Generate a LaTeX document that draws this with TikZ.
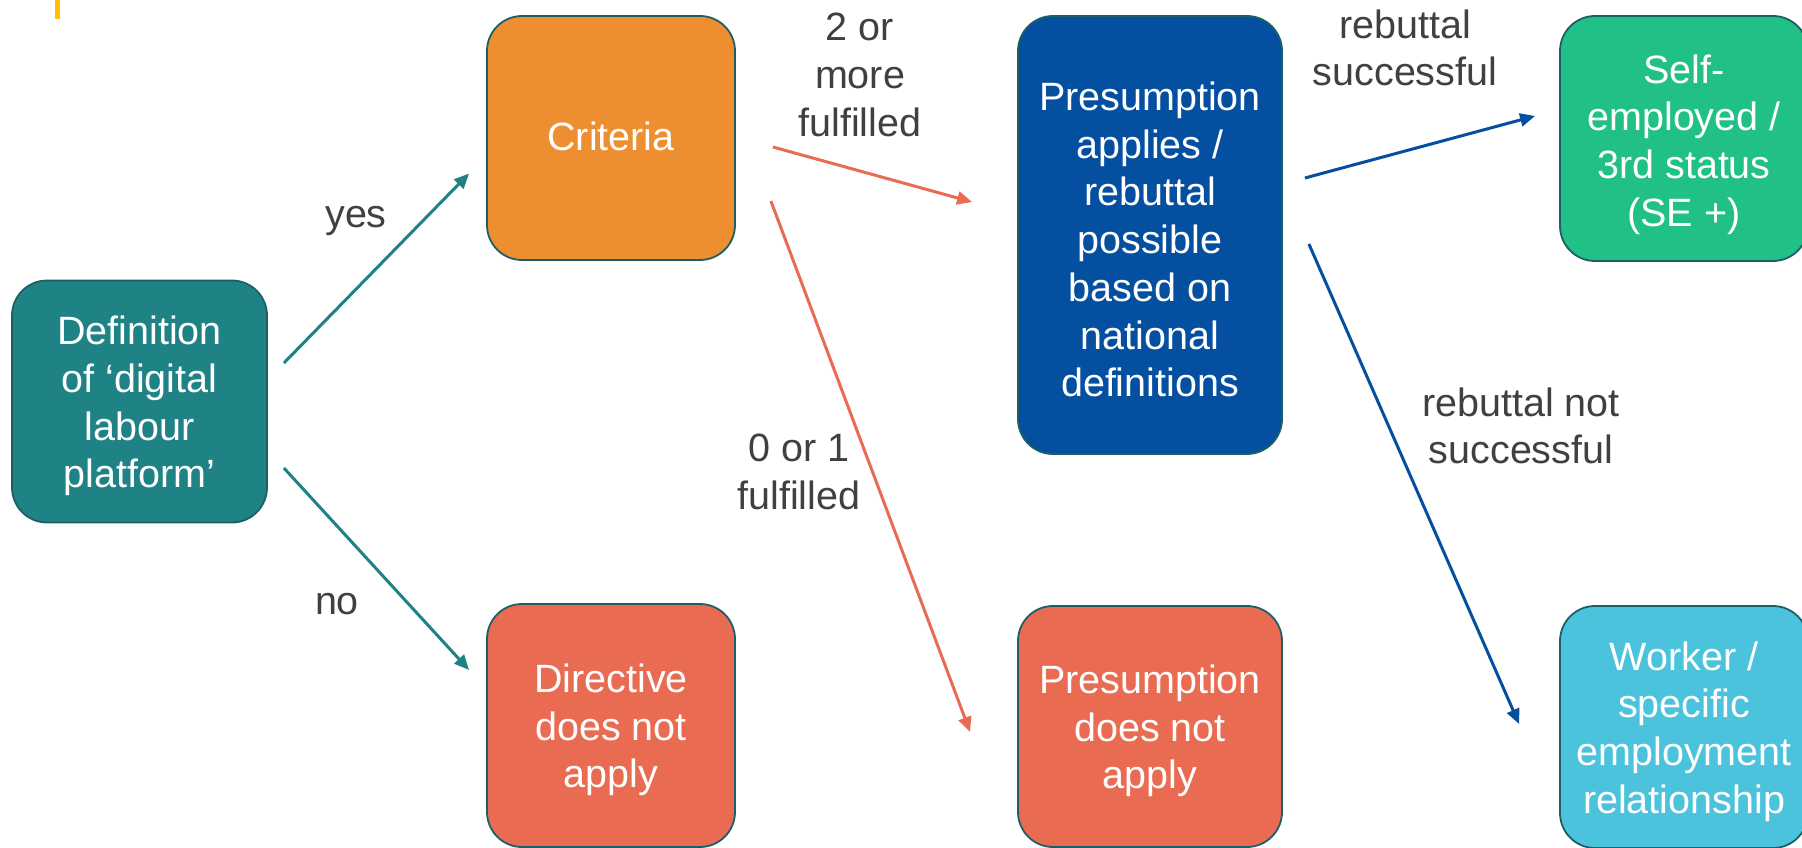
\documentclass[tikz,border=0pt]{standalone}
\usepackage{fontspec}
\setmainfont{Liberation Sans}
\usetikzlibrary{arrows.meta}

\definecolor{tealbox}{HTML}{1F8385}
\definecolor{orangebox}{HTML}{ED8F31}
\definecolor{coralbox}{HTML}{E86B52}
\definecolor{bluebox}{HTML}{054FA1}
\definecolor{greenbox}{HTML}{21C087}
\definecolor{cyanbox}{HTML}{4CC3DD}
\definecolor{boxline}{HTML}{1D5F66}
\definecolor{labelgray}{HTML}{404040}
\definecolor{markyellow}{HTML}{FFC000}

\tikzset{
  txt/.style={font=\fontsize{39.5}{47.7}\selectfont, align=center},
  card/.style={draw=boxline, line width=1.8pt, rounded corners=35pt, inner sep=0pt},
  cardtext/.style={txt, text=white, inner sep=0pt, yshift=-4.5pt},
  lbl/.style={txt, text=labelgray, inner sep=0pt},
  link/.style={line width=3pt, -{Triangle[length=15pt,width=13pt]}},
}

\begin{document}
\begin{tikzpicture}[x=1pt,y=-1pt]
\useasboundingbox (0,0) rectangle (1802,848);

% small accent bar in the corner
\fill[markyellow] (55,0) rectangle (59.7,19);

% boxes
\node[card, fill=tealbox, minimum width=255pt, minimum height=242pt,
  label={[cardtext]center:{Definition\\of ‘digital\\labour\\platform’}}]
  (def) at (139.5,401.5) {};
\node[card, fill=orangebox, minimum width=248pt, minimum height=244pt,
  label={[cardtext, yshift=6.5pt]center:{Criteria}}]
  (crit) at (611,138) {};
\node[card, fill=coralbox, minimum width=248pt, minimum height=243pt,
  label={[cardtext]center:{Directive\\does not\\apply}}]
  (dir) at (611,725.5) {};
\node[card, fill=bluebox, minimum width=264pt, minimum height=438pt,
  label={[cardtext]center:{Presumption\\applies /\\rebuttal\\possible\\based on\\national\\definitions}}]
  (pres) at (1150,235) {};
\node[card, fill=coralbox, minimum width=264pt, minimum height=241pt,
  label={[cardtext]center:{Presumption\\does not\\apply}}]
  (pna) at (1150,726.5) {};
\node[card, fill=greenbox, minimum width=248pt, minimum height=245pt,
  label={[cardtext, yshift=-1.5pt]center:{Self-\\employed /\\3rd status\\(SE +)}}]
  (se) at (1684,138.5) {};
\node[card, fill=cyanbox, minimum width=248pt, minimum height=242pt,
  label={[cardtext]center:{Worker /\\specific\\employment\\relationship}}]
  (wk) at (1684,727) {};

% connectors
\draw[link, tealbox] ([shift={(16,-38.5)}]def.east) -- ([shift={(-17,35.5)}]crit.west);
\draw[link, tealbox] ([shift={(16,66.5)}]def.east) -- ([shift={(-17,-55.5)}]dir.west);
\draw[link, coralbox] ([shift={(37,9)}]crit.east) -- ([shift={(-45,-33)}]pres.west);
\draw[link, coralbox] ([shift={(35,63)}]crit.east) -- ([shift={(-47,5.5)}]pna.west);
\draw[link, bluebox] ([shift={(22,-57)}]pres.east) -- ([shift={(-24,-22.5)}]se.west);
\draw[link, bluebox] ([shift={(26,9)}]pres.east) -- ([shift={(-40,-3)}]wk.west);

% connector labels
\node[lbl] (lyes) at (356,221) {yes};
\node[lbl] (lno) at (337,604.5) {no};
\node[lbl] (ltwo) at (860,75) {2 or\\more\\fulfilled};
\node[lbl] (lzero) at (799,472) {0 or 1\\fulfilled};
\node[lbl] (lsucc) at (1405,48) {rebuttal\\successful};
\node[lbl] (lnot) at (1521,426) {rebuttal not\\successful};
\end{tikzpicture}
\end{document}
